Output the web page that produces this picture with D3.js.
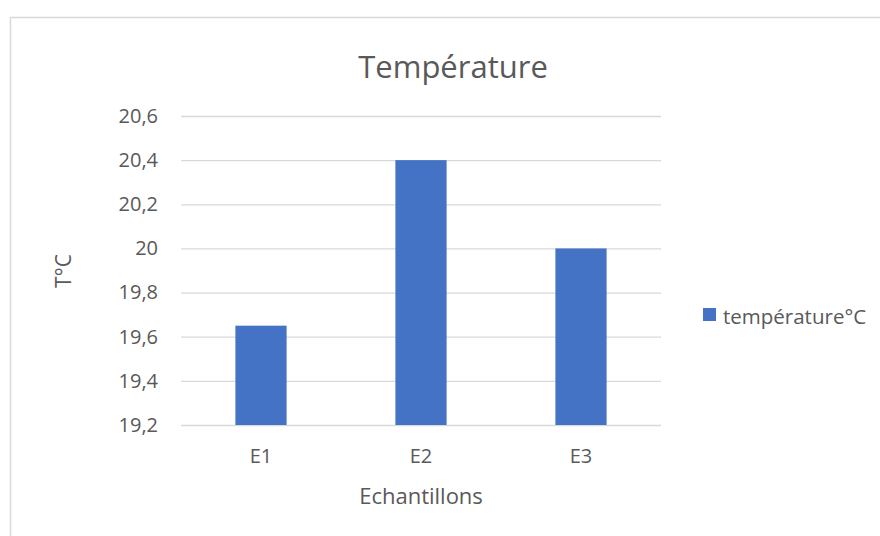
<!DOCTYPE html>
<html>
<head>
<meta charset="utf-8">
<script src="https://cdn.jsdelivr.net/npm/d3@7"></script>
<style>
  html, body { margin: 0; padding: 0; background: #fff; }
  svg { display: block; }
  text { font-family: "Open Sans", "Noto Sans", sans-serif; fill: #595959; }
</style>
</head>
<body>
<script>
// Sample temperatures
const categories = ["E1", "E2", "E3"];
const temperatures = [19.65, 20.4, 20.0];
const yTicks = [19.2, 19.4, 19.6, 19.8, 20.0, 20.2, 20.4, 20.6];
const seriesName = "température°C";
const chartTitle = "Température";
const xTitle = "Echantillons";
const yTitle = "T°C";

const W = 880, H = 536;
const plot = { left: 181, right: 661, top: 116, bottom: 425 };

const svg = d3.select("body").append("svg")
  .attr("width", W).attr("height", H);

// chart frame
svg.append("rect")
  .attr("x", 10.5).attr("y", 17.5)
  .attr("width", W + 20).attr("height", H + 20)
  .attr("fill", "#fff").attr("stroke", "#d9d9d9").attr("stroke-width", 1.5);

const x = d3.scaleBand()
  .domain(categories)
  .range([plot.left, plot.right])
  .paddingInner(0.68).paddingOuter(0.34);

const y = d3.scaleLinear()
  .domain([19.2, 20.6])
  .range([plot.bottom, plot.top]);

const fmt = v => d3.format("~g")(+v.toFixed(1)).replace(".", ",");

// gridlines + value labels
const yAxis = d3.axisLeft(y)
  .tickValues(yTicks)
  .tickSize(-(plot.right - plot.left))
  .tickPadding(23)
  .tickFormat(fmt);

const gy = svg.append("g")
  .attr("transform", `translate(${plot.left},0)`)
  .call(yAxis);
gy.select(".domain").remove();
gy.selectAll(".tick line").attr("stroke", "#d9d9d9").attr("stroke-width", 1.3);
gy.selectAll(".tick text")
  .attr("font-size", 20).attr("fill", "#595959")
  .attr("font-family", "Open Sans, sans-serif");

// bars
svg.append("g").selectAll("rect")
  .data(categories.map((c, i) => ({ c, v: temperatures[i] })))
  .join("rect")
  .attr("x", d => x(d.c))
  .attr("width", x.bandwidth())
  .attr("y", d => y(d.v))
  .attr("height", d => y(19.2) - y(d.v))
  .attr("fill", "#4472c4");

// category axis
const xAxis = d3.axisBottom(x).tickSize(0).tickPadding(24);
const gx = svg.append("g")
  .attr("transform", `translate(0,${plot.bottom})`)
  .call(xAxis);
gx.select(".domain").remove();
gx.selectAll(".tick text")
  .attr("font-size", 20).attr("fill", "#595959")
  .attr("font-family", "Open Sans, sans-serif");

// titles
svg.append("text")
  .attr("x", 453).attr("y", 78)
  .attr("text-anchor", "middle").attr("font-size", 31)
  .text(chartTitle);

svg.append("text")
  .attr("x", (plot.left + plot.right) / 2).attr("y", 504)
  .attr("text-anchor", "middle").attr("font-size", 22)
  .text(xTitle);

svg.append("text")
  .attr("transform", `translate(71,271) rotate(-90)`)
  .attr("text-anchor", "middle").attr("font-size", 21)
  .text(yTitle);

// legend
const lg = svg.append("g").attr("transform", "translate(703,308)");
lg.append("rect").attr("width", 13).attr("height", 13).attr("fill", "#4472c4");
lg.append("text").attr("x", 20).attr("y", 16).attr("font-size", 20.5).text(seriesName);
</script>
</body>
</html>
